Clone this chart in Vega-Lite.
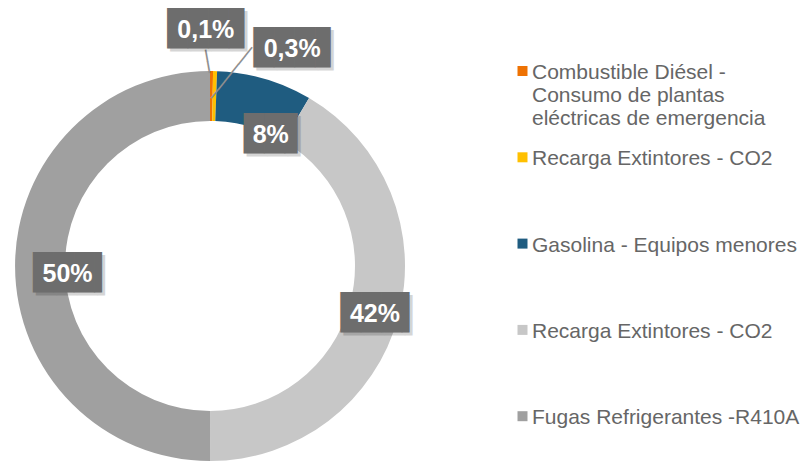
{
  "$schema": "https://vega.github.io/schema/vega-lite/v6.json",
  "width": 420,
  "height": 532,
  "autosize": "none",
  "padding": {"left": 0, "top": 0, "right": 384, "bottom": 0},
  "background": "white",
  "config": {"view": {"stroke": null}},
  "data": {"values": [
    {"key": "diesel", "value": 0.25, "label": "0,1%", "ord": 1},
    {"key": "co2a", "value": 0.33, "label": "0,3%", "ord": 2},
    {"key": "gas", "value": 7.9, "label": "8%", "ord": 3},
    {"key": "co2b", "value": 41.5, "label": "42%", "ord": 4},
    {"key": "fugas", "value": 50.0, "label": "50%", "ord": 5}
  ]},
  "encoding": {
    "theta": {"field": "value", "type": "quantitative", "stack": true},
    "order": {"field": "ord", "type": "quantitative"}
  },
  "layer": [
    {
      "mark": {"type": "arc", "radius": 195, "radius2": 145},
      "encoding": {
        "color": {
          "field": "key", "type": "nominal",
          "scale": {"domain": ["diesel", "co2a", "gas", "co2b", "fugas"], "range": ["#EE7203", "#FFC000", "#1F5C80", "#C7C7C7", "#A0A0A0"]},
          "legend": {
            "orient": "none", "legendX": 512, "legendY": 51.5, "title": null, "padding": 0,
            "symbolType": "M-1,0.8H1V2.8H-1Z", "symbolSize": 100, "symbolStrokeWidth": 0,
            "labelFont": "Liberation Sans", "labelFontSize": 21, "labelColor": "#666666",
            "labelBaseline": "top", "rowPadding": 8.3, "labelOffset": -1, "labelLimit": 400,
            "labelExpr": "datum.value == 'diesel' ? ['Combustible Diésel -', 'Consumo de plantas', 'eléctricas de emergencia'] : datum.value == 'co2a' ? ['Recarga Extintores - CO2', '', ''] : datum.value == 'gas' ? ['Gasolina - Equipos menores', '', ''] : datum.value == 'co2b' ? ['Recarga Extintores - CO2', '', ''] : ['Fugas Refrigerantes -R410A', '', '']"
          }
        }
      }
    },
    {
      "mark": {"type": "text", "radius": 236, "dx": 30.2, "dy": 10.3, "angle": 80, "font": "DejaVu Sans Mono", "fontSize": 19.4, "color": "#8F8F8F"},
      "encoding": {"text": {"condition": {"test": "datum.key == 'diesel'", "value": "──"}, "value": ""}}
    },
    {
      "mark": {"type": "text", "radius": 236, "dx": -23.5, "dy": 40, "angle": -51.2, "font": "DejaVu Sans Mono", "fontSize": 18, "color": "#8F8F8F"},
      "encoding": {"text": {"condition": {"test": "datum.key == 'co2a'", "value": "──────"}, "value": ""}}
    },
    {
      "mark": {"type": "text", "radius": 236, "dx": -0.6, "dy": 3, "font": "DejaVu Sans Mono", "fontSize": 34, "color": "#000000", "opacity": 0.16},
      "encoding": {"text": {"condition": {"test": "datum.key == 'diesel'", "value": "███▊"}, "value": ""}}
    },
    {
      "mark": {"type": "text", "radius": 236, "dx": -3.6, "dy": 0, "font": "DejaVu Sans Mono", "fontSize": 34, "color": "#6D6D6D"},
      "encoding": {"text": {"condition": {"test": "datum.key == 'diesel'", "value": "███▊"}, "value": ""}}
    },
    {
      "mark": {"type": "text", "radius": 236, "dx": -6, "dy": 0, "font": "Liberation Sans", "fontWeight": "bold", "fontSize": 25, "color": "white"},
      "encoding": {"text": {"condition": {"test": "datum.key == 'diesel'", "field": "label"}, "value": ""}}
    },
    {
      "mark": {"type": "text", "radius": 236, "dx": 81.4, "dy": 22, "font": "DejaVu Sans Mono", "fontSize": 34, "color": "#000000", "opacity": 0.16},
      "encoding": {"text": {"condition": {"test": "datum.key == 'co2a'", "value": "███▊"}, "value": ""}}
    },
    {
      "mark": {"type": "text", "radius": 236, "dx": 78.4, "dy": 19, "font": "DejaVu Sans Mono", "fontSize": 34, "color": "#6D6D6D"},
      "encoding": {"text": {"condition": {"test": "datum.key == 'co2a'", "value": "███▊"}, "value": ""}}
    },
    {
      "mark": {"type": "text", "radius": 236, "dx": 76, "dy": 19, "font": "Liberation Sans", "fontWeight": "bold", "fontSize": 25, "color": "white"},
      "encoding": {"text": {"condition": {"test": "datum.key == 'co2a'", "field": "label"}, "value": ""}}
    },
    {
      "mark": {"type": "text", "radius": 145, "dx": 26.8, "dy": 11, "font": "DejaVu Sans Mono", "fontSize": 34, "color": "#000000", "opacity": 0.16},
      "encoding": {"text": {"condition": {"test": "datum.key == 'gas'", "value": "██▋"}, "value": ""}}
    },
    {
      "mark": {"type": "text", "radius": 145, "dx": 23.8, "dy": 8, "font": "DejaVu Sans Mono", "fontSize": 34, "color": "#6D6D6D"},
      "encoding": {"text": {"condition": {"test": "datum.key == 'gas'", "value": "██▋"}, "value": ""}}
    },
    {
      "mark": {"type": "text", "radius": 145, "dx": 20, "dy": 8, "font": "Liberation Sans", "fontWeight": "bold", "fontSize": 25, "color": "white"},
      "encoding": {"text": {"condition": {"test": "datum.key == 'gas'", "field": "label"}, "value": ""}}
    },
    {
      "mark": {"type": "text", "radius": 171, "dx": 9.4, "dy": 6, "font": "DejaVu Sans Mono", "fontSize": 34, "color": "#000000", "opacity": 0.16},
      "encoding": {"text": {"condition": {"test": "datum.key == 'co2b'", "value": "███▍"}, "value": ""}}
    },
    {
      "mark": {"type": "text", "radius": 171, "dx": 6.4, "dy": 3, "font": "DejaVu Sans Mono", "fontSize": 34, "color": "#6D6D6D"},
      "encoding": {"text": {"condition": {"test": "datum.key == 'co2b'", "value": "███▍"}, "value": ""}}
    },
    {
      "mark": {"type": "text", "radius": 171, "dx": 0, "dy": 3, "font": "Liberation Sans", "fontWeight": "bold", "fontSize": 25, "color": "white"},
      "encoding": {"text": {"condition": {"test": "datum.key == 'co2b'", "field": "label"}, "value": ""}}
    },
    {
      "mark": {"type": "text", "radius": 142.5, "dx": 9.4, "dy": 10.5, "font": "DejaVu Sans Mono", "fontSize": 34, "color": "#000000", "opacity": 0.16},
      "encoding": {"text": {"condition": {"test": "datum.key == 'fugas'", "value": "███▍"}, "value": ""}}
    },
    {
      "mark": {"type": "text", "radius": 142.5, "dx": 6.4, "dy": 7.5, "font": "DejaVu Sans Mono", "fontSize": 34, "color": "#6D6D6D"},
      "encoding": {"text": {"condition": {"test": "datum.key == 'fugas'", "value": "███▍"}, "value": ""}}
    },
    {
      "mark": {"type": "text", "radius": 142.5, "dx": 0, "dy": 7.5, "font": "Liberation Sans", "fontWeight": "bold", "fontSize": 25, "color": "white"},
      "encoding": {"text": {"condition": {"test": "datum.key == 'fugas'", "field": "label"}, "value": ""}}
    }
  ]
}
